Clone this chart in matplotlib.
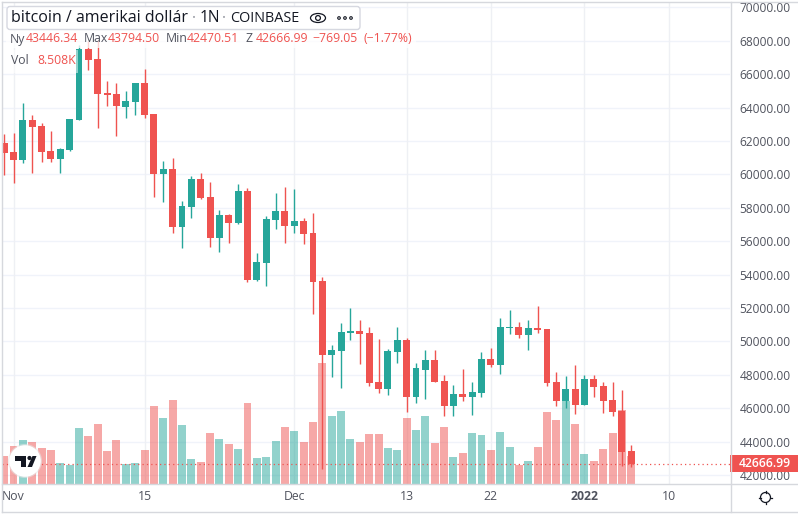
import numpy as np
import pandas as pd
import matplotlib
matplotlib.use('Agg')
import matplotlib.pyplot as plt
import matplotlib.dates as mdates
from matplotlib.patches import Circle, FancyBboxPatch, Polygon, Rectangle, Ellipse

plt.rcParams['font.family'] = ['Open Sans', 'DejaVu Sans']

dates = pd.date_range('2021-10-31', periods=68)
opens = [61881, 61342, 60863, 63257, 62898, 61401, 60922, 61461, 63257, 67509, 66910, 64874, 64814, 64036, 64335, 65473, 63617,
         60024, 60323, 56850, 58048, 59724, 58646, 56192, 57569, 57090, 59006, 53677, 54695, 57270, 57808, 56910, 57210, 56491,
         53617, 49186, 49425, 50509, 50629, 50509, 47569, 47150, 49365, 50083, 46671, 48287, 48886, 47629, 46132, 46850, 46671,
         46910, 48946, 48586, 50808, 50869, 50389, 50808, 50748, 47569, 46431, 47150, 46192, 47749, 47329, 46491, 45832, 43446.34]
highs = [62420, 62479, 64275, 63557, 63078, 62599, 61581, 63317, 67748, 67988, 68048, 65593, 65473, 64994, 65473, 66311, 63617,
         60803, 60982, 58407, 59904, 60084, 59545, 57868, 57629, 59425, 59185, 55293, 57509, 58886, 59245, 59125, 57389, 57689,
         53856, 49784, 51108, 52006, 51281, 50869, 50144, 49545, 50869, 50204, 48706, 49485, 49485, 47988, 47389, 48347, 47569,
         49365, 49605, 51401, 51880, 51162, 51281, 52120, 50748, 48168, 47928, 48586, 47988, 47988, 47569, 47569, 47090, 43794.50]
lows = [59964, 59485, 60683, 60084, 60743, 60743, 60084, 61401, 63257, 66251, 62778, 64096, 62300, 63377, 63557, 63377, 58646,
        58347, 56491, 55593, 57389, 58527, 55653, 55353, 55892, 57030, 53557, 53617, 53317, 56731, 55892, 56491, 55832, 51641,
        42359, 47868, 47210, 50083, 48646, 47329, 46910, 46790, 48706, 45772, 46311, 46551, 47569, 45533, 45533, 46431, 45593,
        46671, 48467, 48048, 50449, 50204, 49485, 50509, 47329, 46132, 46012, 45653, 46192, 46671, 45712, 45533, 42539, 42470.51]
closes = [61300, 60863, 63257, 62838, 61342, 60922, 61521, 63317, 67509, 66850, 64814, 64754, 64096, 64395, 65473, 63557, 60024,
          60323, 56850, 58108, 59724, 58587, 56192, 57569, 57090, 59006, 53677, 54754, 57329, 57808, 56910, 57210, 56431, 53557,
          49186, 49485, 50569, 50629, 50449, 47509, 47150, 49425, 50083, 46671, 48407, 48886, 47569, 46132, 46850, 46671, 46970,
          48946, 48586, 50869, 50869, 50389, 50808, 50688, 47509, 46431, 47150, 46192, 47749, 47269, 46431, 45772, 43377, 42666.99]
volumes = [8.5, 11.6, 13.5, 12.9, 11.0, 10.4, 6.3, 5.7, 17.2, 14.8, 18.5, 10.1, 13.5, 6.0, 6.3, 10.4, 24.1,
           20.4, 26.0, 18.2, 7.6, 6.6, 15.7, 13.8, 12.3, 10.7, 25.0, 7.9, 8.2, 13.2, 17.6, 16.3, 12.9, 19.1,
           37.5, 21.0, 22.6, 13.8, 12.9, 15.4, 15.4, 11.0, 10.4, 20.4, 16.6, 21.0, 12.6, 17.6, 8.2, 9.5, 15.7,
           15.1, 10.4, 16.0, 11.3, 5.7, 7.0, 11.3, 22.2, 19.7, 25.7, 18.5, 9.1, 7.0, 10.7, 15.7, 22.9, 8.508]
price_ticks = list(range(42000, 70001, 2000))
date_ticks = ['2021-11-01', '2021-11-15', '2021-12-01', '2021-12-13', '2021-12-22', '2022-01-01', '2022-01-10']
date_labels = ['Nov', '15', 'Dec', '13', '22', '2022', '10']

RED = '#ef5350'
GREEN = '#26a69a'
TXT = '#50535e'

W, H = 798, 516
fig = plt.figure(figsize=(W / 100, H / 100), dpi=100)
rect = [2 / W, 1 - 483.5 / H, 728 / W, 481.5 / H]

o = np.array(opens)
c = np.array(closes)
colors = [GREEN if up else RED for up in c >= o]

# volume goes in its own axes, behind the candles
axv = fig.add_axes(rect)
axv.bar(dates, volumes, width=0.85, color=colors, alpha=0.5, linewidth=0, zorder=2)
axv.set_ylim(0, 150.2)
axv.set_yticks([])

ax = fig.add_axes(rect)
ax.patch.set_visible(False)
ax.vlines(dates, lows, highs, colors=colors, linewidth=1.0, zorder=3)
ax.bar(dates, np.abs(c - o), bottom=np.minimum(o, c), width=0.74, color=colors, linewidth=0, zorder=4)
ax.axhline(closes[-1], color=RED, lw=0.9, ls=(0, (1, 2.5)), zorder=5)
ax.set_ylim(41491, 70323)
ax.yaxis.tick_right()
ax.set_yticks(price_ticks)
ax.set_yticklabels(['%.2f' % p for p in price_ticks], fontsize=8.6, color=TXT)
ax.tick_params(axis='y', length=0, pad=7)
ax.set_xticks([])

x0 = mdates.date2num(pd.Timestamp('2021-11-01'))
for a in (ax, axv):
    a.set_xlim(x0 - 1.229, x0 + 76.55)
    for s in a.spines.values():
        s.set_visible(False)

axv.set_xticks(pd.to_datetime(date_ticks))
axv.set_xticklabels(date_labels, fontsize=8.8, color=TXT)
axv.tick_params(axis='x', length=0, pad=5)
axv.get_xticklabels()[5].set_fontweight('bold')
axv.set_axisbelow(True)
axv.grid(axis='x', color='#eef0f4', lw=1.0, zorder=0)
for p in price_ticks:
    axv.plot([0, 1], [(p - 41491) / (70323 - 41491)] * 2, transform=axv.transAxes, color='#f0f3fa', lw=1.0, zorder=0)

# chrome: borders, legend, icons, in pixel coordinates
ov = fig.add_axes([0, 0, 1, 1], zorder=10)
ov.set_xlim(0, W)
ov.set_ylim(H, 0)
ov.axis('off')
ov.patch.set_visible(False)

border = '#d6d8dd'
ov.plot([1.5, W], [1.5, 1.5], color=border, lw=1)
ov.plot([1.5, 1.5], [1.5, 512], color=border, lw=1)
ov.plot([1.5, W], [512, 512], color=border, lw=1)
ov.plot([1.5, W], [483.5, 483.5], color=border, lw=1)
ov.plot([730.5, 730.5], [1.5, 512], color=border, lw=1)

# last price label
ov.add_patch(Rectangle((730, 455), 68, 17, color=RED, lw=0))
ov.text(765, 463.5, '42666.99', color='white', fontsize=8.8, ha='center', va='center', fontweight='semibold')

# legend rows
ov.add_patch(Rectangle((6, 30), 410, 18, color='white', alpha=0.75, lw=0))
ov.add_patch(Rectangle((6, 50), 72, 23, color='white', alpha=0.5, lw=0))
ov.add_patch(FancyBboxPatch((7, 6.5), 353, 23, boxstyle='round,pad=0,rounding_size=3', fc='white', ec='#d6d8e0', lw=1))
for x, s, col, size in [(11, 'bitcoin / amerikai dollár', '#131722', 11.5), (192, '·', '#9598a1', 11.2),
                        (200, '1N', '#131722', 11.2), (222, '·', '#9598a1', 11.2), (230, 'COINBASE', '#131722', 10.4)]:
    ov.text(x, 18.5, s, fontsize=size, color=col, va='center')
row = [(10, 'Ny', TXT), (26, '43446.34', RED), (84, 'Max', TXT), (108, '43794.50', RED), (166, 'Min', TXT),
       (187, '42470.51', RED), (246, 'Z', TXT), (256, '42666.99', RED), (312.5, '−769.05', RED), (363, '(−1.77%)', RED)]
for x, s, col in row:
    ov.text(x, 39, s, fontsize=8.8, color=col, va='center')
ov.text(11, 61, 'Vol', fontsize=8.8, color=TXT, va='center')
ov.text(37, 61, '8.508K', fontsize=8.8, color=RED, va='center')

# eye and dots
ov.add_patch(Ellipse((318, 18), 15, 9, fc='none', ec='#131722', lw=0.9))
ov.add_patch(Circle((318, 18), 2.4, fc='none', ec='#131722', lw=0.9))
for x in (339, 345, 351):
    ov.add_patch(Circle((x, 18), 1.3, fc='none', ec='#131722', lw=0.8))

# tradingview badge
ov.add_patch(Circle((25, 461), 17, fc='#e6e6e6', lw=0, alpha=0.6))
ov.add_patch(Circle((25, 461), 15.8, fc='white', lw=0))
ov.add_patch(Polygon([(15, 456), (26, 456), (26, 467), (21, 467), (21, 461), (15, 461)], fc='#131722', lw=0))
ov.add_patch(Circle((29.5, 458), 2.1, fc='#131722', lw=0))
ov.add_patch(Polygon([(32.5, 456), (36.5, 456), (32, 467), (27.5, 467)], fc='#131722', lw=0))

# settings gear
ov.add_patch(Circle((765.5, 497.5), 5, fc='none', ec='#131722', lw=0.9))
for ang in (0, 90, 180, 270):
    t = np.deg2rad(ang)
    ov.plot([765.5 + 5 * np.cos(t), 765.5 + 6.8 * np.cos(t)], [497.5 + 5 * np.sin(t), 497.5 + 6.8 * np.sin(t)], color='#131722', lw=0.9)

fig.savefig('out.png', dpi=100)
